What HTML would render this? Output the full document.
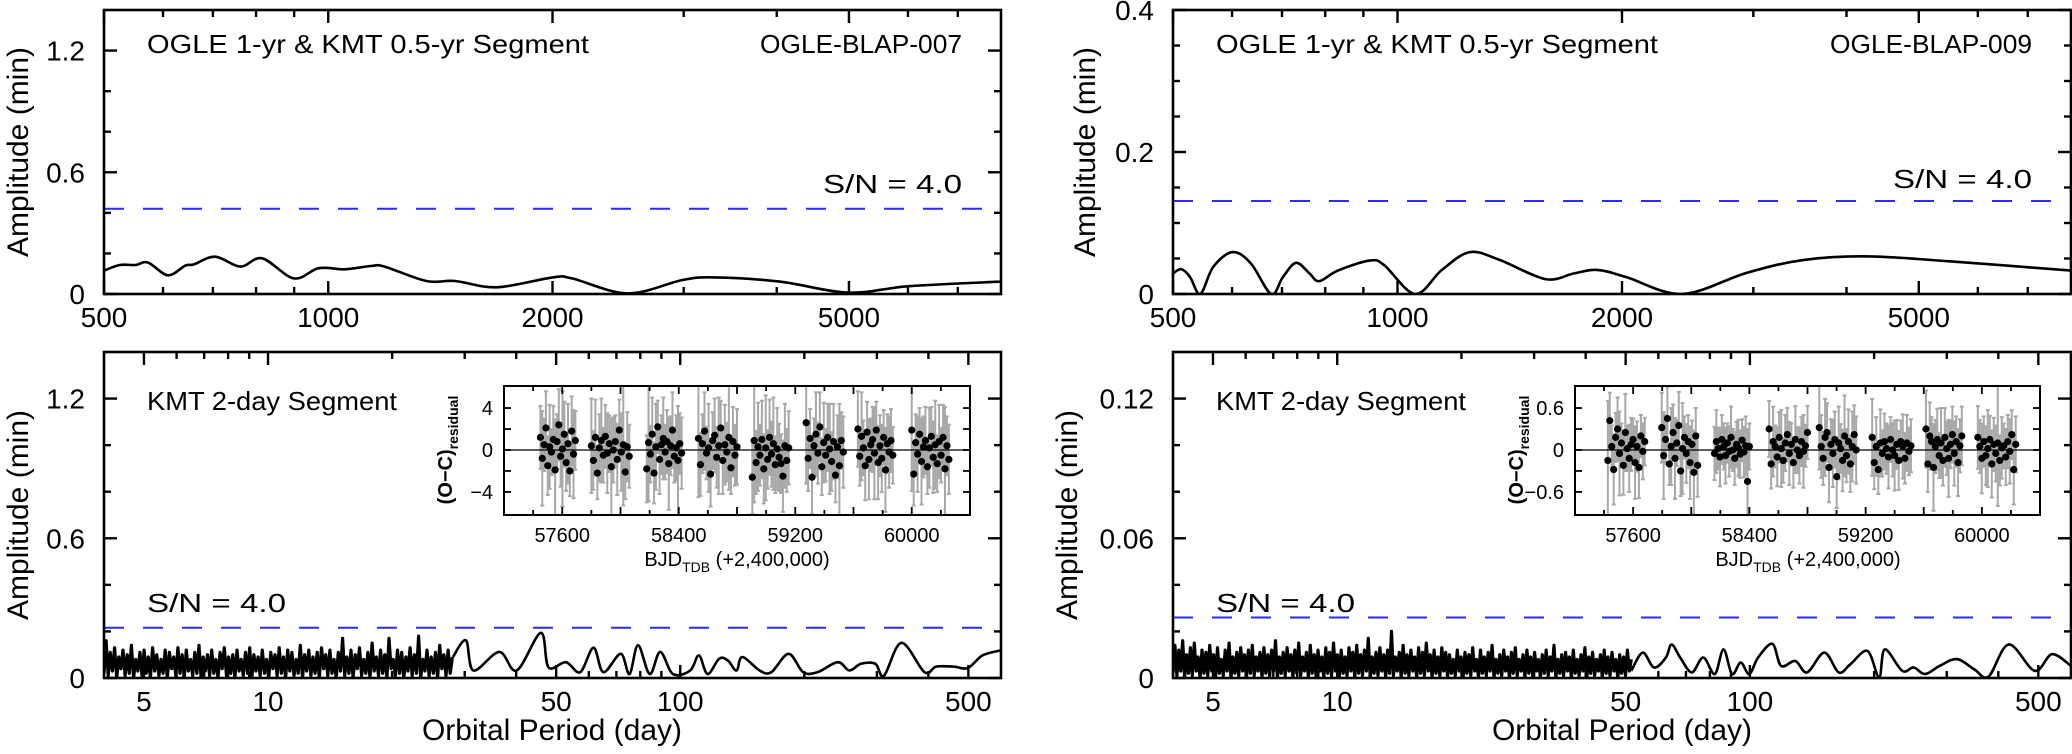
<!DOCTYPE html>
<html><head><meta charset="utf-8"><style>body{margin:0;background:#fff}svg{display:block}</style></head>
<body>
<svg id="fig" width="2072" height="754" viewBox="0 0 2072 754" xmlns="http://www.w3.org/2000/svg">
<rect x="0" y="0" width="2072" height="754" fill="#fff"/>
<g font-family="'Liberation Sans Narrow','Liberation Sans',sans-serif" font-size="26" fill="#000">
<text x="147" y="53" textLength="442" lengthAdjust="spacingAndGlyphs">OGLE 1-yr &amp; KMT 0.5-yr Segment</text>
<text x="760" y="53" textLength="202" lengthAdjust="spacingAndGlyphs">OGLE-BLAP-007</text>
<text x="823" y="193" textLength="139" lengthAdjust="spacingAndGlyphs">S/N = 4.0</text>
<text x="1216" y="53" textLength="442" lengthAdjust="spacingAndGlyphs">OGLE 1-yr &amp; KMT 0.5-yr Segment</text>
<text x="1830" y="53" textLength="202" lengthAdjust="spacingAndGlyphs">OGLE-BLAP-009</text>
<text x="1893" y="188" textLength="139" lengthAdjust="spacingAndGlyphs">S/N = 4.0</text>
<text x="147" y="410" textLength="250" lengthAdjust="spacingAndGlyphs">KMT 2-day Segment</text>
<text x="147" y="612" textLength="139" lengthAdjust="spacingAndGlyphs">S/N = 4.0</text>
<text x="1216" y="410" textLength="250" lengthAdjust="spacingAndGlyphs">KMT 2-day Segment</text>
<text x="1216" y="612" textLength="139" lengthAdjust="spacingAndGlyphs">S/N = 4.0</text>
</g>
<g font-family="'Liberation Sans',sans-serif" font-size="30" fill="#000" text-anchor="middle">
<text transform="translate(28,152) rotate(-90)">Amplitude (min)</text>
<text transform="translate(28,515) rotate(-90)">Amplitude (min)</text>
<text transform="translate(1095,152) rotate(-90)">Amplitude (min)</text>
<text transform="translate(1077,515) rotate(-90)">Amplitude (min)</text>
<text x="552" y="740">Orbital Period (day)</text>
<text x="1622" y="740">Orbital Period (day)</text>
</g>
<g font-family="'Liberation Sans',sans-serif" font-size="20" fill="#000">
<text transform="translate(452,450) rotate(-90)" text-anchor="middle" font-weight="bold">(O−C)<tspan font-size="14" dy="6">residual</tspan></text>
<text x="737" y="566" text-anchor="middle">BJD<tspan font-size="14" dy="6">TDB</tspan><tspan dy="-6"> (+2,400,000)</tspan></text>
<text transform="translate(1523,450) rotate(-90)" text-anchor="middle" font-weight="bold">(O−C)<tspan font-size="14" dy="6">residual</tspan></text>
<text x="1808" y="566" text-anchor="middle">BJD<tspan font-size="14" dy="6">TDB</tspan><tspan dy="-6"> (+2,400,000)</tspan></text>
</g>
</svg>
<script>
// ---------- DATA ----------
const tlPeriods=[500,525,551,573,609,643,660,705,762,815,899,971,1053,1141,1190,1354,1480,1683,2001,2124,2523,2989,3303,4037,4990,6045,8000];
const tlAmps=[0.115,0.143,0.143,0.155,0.092,0.140,0.146,0.184,0.135,0.176,0.077,0.127,0.122,0.138,0.135,0.064,0.064,0.033,0.082,0.077,0.003,0.069,0.082,0.061,0.007,0.039,0.061];
const tlSN=0.42;
const trPeriods=[500,513,527,544,566,601,636,677,702,731,762,785,832,917,959,1056,1147,1250,1370,1579,1725,1852,2025,2407,2943,3508,4283,5500,8000];
const trAmps=[0.029,0.035,0.024,0.0,0.038,0.059,0.043,0.0,0.024,0.044,0.029,0.018,0.033,0.047,0.041,0.0,0.034,0.059,0.048,0.021,0.029,0.034,0.024,0.0,0.030,0.048,0.053,0.046,0.033];
const trSN=0.131;
const blNoiseRange=[4,28];
const blNoise=[0.02,0.16,0.01,0.11,0.03,0.13,0.00,0.09,0.04,0.12,0.01,0.10,0.02,0.14,0.00,0.08,0.03,0.11,0.01,0.12,0.02,0.09,0.00,0.13,0.03,0.10,0.01,0.08,0.02,0.12,0.00,0.11,0.04,0.09,0.01,0.13,0.02,0.10,0.00,0.12,0.03,0.08,0.01,0.11,0.02,0.14,0.00,0.09,0.03,0.10,0.01,0.12,0.02,0.08,0.00,0.11,0.04,0.13,0.01,0.09,0.02,0.10,0.00,0.12,0.03,0.08,0.01,0.11,0.02,0.13,0.00,0.10,0.03,0.09,0.01,0.12,0.02,0.08,0.00,0.11,0.04,0.10,0.01,0.13,0.02,0.09,0.00,0.12,0.03,0.11,0.01,0.08,0.02,0.14,0.00,0.10,0.03,0.12,0.01,0.09,0.02,0.11,0.00,0.13,0.04,0.10,0.01,0.12,0.02,0.08,0.00,0.11,0.03,0.17,0.01,0.09,0.02,0.12,0.00,0.10,0.04,0.13,0.01,0.08,0.02,0.11,0.00,0.15,0.03,0.09,0.01,0.12,0.02,0.10,0.00,0.17,0.04,0.08,0.01,0.12,0.02,0.11,0.00,0.09,0.03,0.13,0.01,0.10,0.02,0.18,0.00,0.08,0.03,0.12,0.01,0.09,0.02,0.11,0.00,0.14,0.04,0.10,0.01,0.12,0.02,0.09];
const blPeriods=[28.1,30.2,31.5,36.4,40.1,45.9,47.9,52.8,57.2,61.6,65.1,71.7,75.3,79.0,84.3,89.4,96.0,105.7,111.0,116.5,124.3,130.5,136.9,141.4,155.8,166.3,183.2,198.6,215.3,241.1,257.2,274.4,297.4,312.2,344.0,391.4,417.7,460.2,498.7,541,600];
const blAmps=[0.090,0.162,0.032,0.112,0.032,0.194,0.046,0.068,0.025,0.130,0.025,0.104,0.017,0.141,0.017,0.112,0.017,0.032,0.097,0.017,0.083,0.075,0.032,0.090,0.032,0.025,0.104,0.025,0.025,0.068,0.032,0.061,0.061,0.010,0.151,0.025,0.049,0.049,0.043,0.097,0.119];
const blSN=0.216;
const brNoiseRange=[4,51.6];
const brNoiseMilli=[2,14,1,12,3,16,0,10,2,13,1,15,3,9,0,12,2,11,1,14,3,10,0,13,2,8,1,12,3,15,0,9,2,11,1,13,3,10,0,12,2,14,1,9,3,11,0,13,2,10,1,12,3,16,0,9,2,11,1,13,3,10,0,12,2,15,1,9,3,11,0,14,2,10,1,12,3,9,0,13,2,11,1,15,3,10,0,12,2,9,1,13,3,11,0,14,2,10,1,12,3,17,0,9,2,11,1,13,3,10,0,12,2,20,1,9,3,11,0,14,2,10,1,12,3,9,0,13,2,11,1,15,3,10,0,12,2,9,1,13,3,11,0,10,2,8,1,12,3,9,0,11,2,10,1,13,3,8,0,12,2,9,1,11,3,14,0,8,2,10,1,12,3,9,0,11,2,13,1,8,3,10,0,12,2,9,1,11,3,8,0,10,2,12,1,9,3,14,0,8,2,10,1,11,3,9,0,12,2,8,1,10,3,13,0,9,2,11,1,8,3,10,0,12,2,9,1,11,3,8,0,10,2,9,1,12,3,8];
const brPeriods=[51.6,55.0,58.6,62.6,64.6,67.8,72.3,77.1,82.2,86.3,90.5,95.0,99.7,104.7,113.4,119.0,128.9,137.6,151.5,164.2,175.1,192.8,205.6,212.3,233.9,249.4,265.9,288.2,317.4,349.5,378.7,423.9,489.9,539.5,600];
const brAmps=[0.0031,0.0109,0.0045,0.0088,0.0144,0.0088,0.0024,0.0088,0.0017,0.0123,0.0017,0.0066,0.0017,0.0088,0.0147,0.0052,0.0073,0.0024,0.0109,0.0024,0.0059,0.0116,0.0003,0.0123,0.0031,0.0045,0.0017,0.0052,0.0081,0.0038,0.0006,0.0144,0.0031,0.0102,0.0052];
const brSN=0.026;
// tick labels
const topXTicks=[500,1000,2000,5000];
const topXMinor=[600,700,800,900,3000,4000,6000,7000];
const botXTicks=[5,10,50,100,500];
const botXMinor=[6,7,8,9,20,30,40,60,70,80,90,200,300,400];
const lYTicks=[0,0.6,1.2]; const lYLabels=['0','0.6','1.2']; const lYMinor=[0.2,0.4,0.8,1.0];
const trYTicks=[0,0.2,0.4]; const trYLabels=['0','0.2','0.4']; const trYMinor=[0.05,0.1,0.15,0.25,0.3,0.35];
const brYTicks=[0,0.06,0.12]; const brYLabels=['0','0.06','0.12']; const brYMinor=[0.02,0.04,0.08,0.1];
// inset data
const insetXTicks=[57600,58400,59200,60000];
const liYTicks=[-4,0,4]; const liYLabels=['−4','0','4'];
const riYTicks=[-0.6,0,0.6]; const riYLabels=['−0.6','0','0.6'];
const lSeasonStart=[57450,57800,58180,58535,58905,59275,59630,60000];
const lSeasonEnd=[57690,58060,58420,58800,59155,59530,59870,60255];
const rSeasonStart=[57426,57797,58160,58536,58881,59245,59615,59972];
const rSeasonEnd=[57680,58044,58400,58800,59135,59512,59862,60233];
const lResid=[
[1.2,-0.8,0.5,2.1,-1.5,0.3,-0.2,1.0,-1.9,0.8,2.4,-0.6,0.1,1.5,-1.2,0.6,-2.0,1.8,-0.4,0.9],
[0.4,-1.0,1.2,-2.2,0.2,0.9,-0.5,1.3,-0.3,0.6,-1.6,0.0,0.8,-0.9,1.9,-0.2,0.5,-2.1,0.3,-0.6],
[-1.8,0.7,-0.4,1.5,-2.2,0.3,2.2,-0.9,0.5,1.1,-0.2,0.8,-1.3,0.4,1.9,-0.6,0.2,-1.0,0.6,-0.3],
[1.1,-1.4,0.6,1.8,-0.3,0.2,-2.3,0.9,1.4,-0.7,0.4,2.1,-1.0,0.5,-0.2,1.2,-1.7,0.8,-0.5,0.3],
[-2.6,0.9,-1.2,0.3,-0.5,1.0,-1.8,0.2,-0.9,1.2,-0.4,0.6,-1.4,0.1,-0.7,-1.3,-2.5,0.4,-1.0,0.2],
[2.6,-0.8,1.1,-2.6,0.4,1.5,-0.3,2.2,-1.6,0.7,-0.5,1.2,0.1,-1.1,0.8,-2.4,0.3,-1.5,0.9,-0.2],
[2.0,-0.6,1.3,0.2,-1.5,1.7,-0.9,0.5,1.0,-0.3,1.9,-1.2,0.4,-0.8,1.2,-1.9,0.6,-0.2,0.9,-0.5],
[1.9,-2.3,0.7,-0.4,1.5,-1.1,0.3,0.9,-1.6,0.2,1.3,-0.7,0.5,-1.3,0.8,-0.5,1.2,-1.8,0.4,-0.9]];
const lErr=[
[3.0,4.5,2.5,3.5,2.8,4.0,2.2,3.2,4.8,2.6,3.4,2.9,5.5,3.1,2.7,3.8,2.4,3.3,4.2,2.8],
[4.5,2.8,3.6,2.5,3.2,4.0,2.6,3.0,3.8,2.7,4.6,3.1,2.5,3.4,2.9,3.7,5.8,2.6,3.3,3.0],
[3.2,5.6,2.7,3.5,2.9,4.1,2.5,3.3,2.8,3.9,2.6,3.0,4.4,2.8,3.6,2.5,3.1,5.2,2.9,3.4],
[5.6,3.0,2.8,3.7,2.5,4.2,3.1,2.7,3.5,2.9,4.6,2.6,3.2,3.8,2.8,5.0,2.5,3.3,2.9,3.6],
[3.5,5.9,3.0,4.2,2.9,3.7,3.3,5.0,2.8,3.6,3.1,4.4,2.7,3.9,3.2,2.8,3.4,4.0,3.0,3.5],
[5.8,3.1,2.8,3.5,2.6,4.0,2.9,3.3,2.7,3.8,2.5,3.2,4.3,2.8,3.6,2.6,3.0,5.9,2.7,3.4],
[3.6,2.8,4.2,2.6,3.3,2.9,3.8,2.5,3.1,4.4,2.7,3.5,2.9,3.2,2.6,4.0,2.8,3.4,3.0,2.7],
[5.8,3.0,2.7,3.6,2.5,4.1,2.9,3.2,2.6,3.8,2.8,3.4,4.2,2.7,3.5,2.6,3.1,5.9,2.8,3.3]];
const rResid=[
[-0.15,0.42,0.05,-0.28,0.18,0.30,-0.05,0.10,-0.22,0.25,0.02,-0.12,0.08,0.15,-0.18,0.05,-0.25,0.20,-0.02,0.12],
[0.32,-0.08,0.15,0.45,-0.20,0.05,0.25,-0.12,0.10,0.35,-0.30,0.02,0.18,-0.05,0.12,-0.18,0.08,-0.32,0.20,-0.22],
[-0.05,0.12,0.02,-0.10,0.15,0.05,-0.08,0.10,-0.02,0.18,0.00,-0.12,0.08,0.03,-0.06,0.14,-0.03,0.06,-0.45,0.05],
[0.30,-0.20,0.12,0.05,-0.10,0.18,0.02,-0.15,0.10,0.22,-0.05,0.08,-0.18,0.15,0.00,-0.08,0.12,-0.02,0.06,0.25],
[0.32,0.05,-0.12,0.18,0.25,-0.25,0.08,-0.05,0.15,-0.38,0.10,0.02,-0.15,0.20,-0.08,0.12,-0.20,0.05,0.22,0.00],
[0.18,-0.18,0.05,-0.28,0.10,-0.05,0.12,0.02,-0.10,0.15,0.00,-0.08,0.08,-0.15,0.12,0.05,-0.12,0.10,-0.02,0.06],
[0.30,-0.20,0.20,0.12,-0.25,0.05,0.15,-0.08,0.10,-0.15,0.18,0.02,-0.12,0.08,0.22,-0.05,0.12,-0.18,0.06,0.20],
[0.18,0.05,-0.12,0.12,-0.08,0.02,0.15,-0.20,0.08,-0.05,0.10,-0.15,0.03,0.06,-0.10,0.12,-0.02,0.22,-0.28,0.08]];
const rErr=[
[0.85,0.40,0.30,0.50,0.35,0.45,0.60,0.28,0.42,0.55,0.32,0.48,0.38,0.30,0.52,0.36,0.44,0.30,0.40,0.34],
[0.50,0.62,0.35,0.45,0.30,0.55,0.40,0.58,0.33,0.48,0.36,0.65,0.30,0.42,0.38,0.52,0.34,0.60,0.40,0.45],
[0.38,0.45,0.30,0.42,0.35,0.33,0.40,0.28,0.36,0.44,0.30,0.38,0.32,0.40,0.34,0.30,0.36,0.42,0.75,0.33],
[0.40,0.35,0.50,0.30,0.42,0.36,0.55,0.32,0.40,0.38,0.45,0.30,0.36,0.48,0.33,0.40,0.35,0.52,0.30,0.38],
[0.60,0.45,0.38,0.55,0.42,0.50,0.36,0.48,0.40,0.45,0.52,0.35,0.44,0.58,0.38,0.46,0.40,0.50,0.42,0.48],
[0.55,0.38,0.42,0.35,0.48,0.33,0.40,0.36,0.45,0.32,0.38,0.50,0.35,0.42,0.30,0.46,0.36,0.40,0.34,0.38],
[0.55,0.40,0.48,0.35,0.62,0.38,0.44,0.32,0.50,0.36,0.42,0.38,0.55,0.34,0.40,0.46,0.36,0.48,0.38,0.42],
[0.45,0.38,0.50,0.36,0.42,0.55,0.34,0.48,0.38,0.40,0.90,0.36,0.44,0.32,0.40,0.38,0.46,0.35,0.50,0.40]];

// ---------- DRAWING ----------
const svg=document.getElementById('fig');
const NS='http://www.w3.org/2000/svg';
function mk(tag,attrs,parent){const e=document.createElementNS(NS,tag);for(const k in attrs)e.setAttribute(k,attrs[k]);(parent||svg).appendChild(e);return e;}
function axX(p,c){return c.x0+(Math.log10(p)-Math.log10(c.pmin))/(Math.log10(c.pmax)-Math.log10(c.pmin))*(c.x1-c.x0);}
function axY(a,c){return c.yb-(a/c.amax)*(c.yb-c.yt);}
function catmull(pts){let d='M'+pts[0][0].toFixed(1)+' '+pts[0][1].toFixed(1);
 for(let i=0;i<pts.length-1;i++){const p0=pts[i-1]||pts[i],p1=pts[i],p2=pts[i+1],p3=pts[i+2]||p2;
  const c1=[p1[0]+(p2[0]-p0[0])/6,p1[1]+(p2[1]-p0[1])/6],c2=[p2[0]-(p3[0]-p1[0])/6,p2[1]-(p3[1]-p1[1])/6];
  d+=` C${c1[0].toFixed(1)} ${c1[1].toFixed(1)} ${c2[0].toFixed(1)} ${c2[1].toFixed(1)} ${p2[0].toFixed(1)} ${p2[1].toFixed(1)}`;}
 return d;}

let clipId=0;
function drawPanel(c,prefix){
 const g=mk('g',{});
 
 
 const cid='clip'+(clipId++);
 const cp=mk('clipPath',{id:cid},g);
 mk('rect',{x:c.x0,y:c.yt,width:c.x1-c.x0,height:c.yb-c.yt},cp);
 const sn=mk('line',{x1:c.x0,x2:c.x1,y1:axY(c.sn,c),y2:axY(c.sn,c),stroke:'#2b2bf5','stroke-width':2,'stroke-dasharray':'20 19'},g);
 
 
 if(c.noise){
  const n=c.noise.length, l0=Math.log10(c.noiseRange[0]), l1=Math.log10(c.noiseRange[1]);
  const pts=c.noise.map((a,i)=>[axX(Math.pow(10,l0+(l1-l0)*i/(n-1)),c),axY(a*c.noiseScale,c)]);
  const nd='M'+pts.map(p=>p[0].toFixed(1)+' '+p[1].toFixed(1)).join(' L');
  const np=mk('path',{d:nd,fill:'none',stroke:'#000','stroke-width':3.2,'stroke-linejoin':'round','clip-path':'url(#'+cid+')'},g);
  
  
 }
 const d=catmull(c.periods.map((p,i)=>[axX(p,c),axY(c.amps[i],c)]));
 const curve=mk('path',{d:d,fill:'none',stroke:'#000','stroke-width':2.6,'stroke-linejoin':'round','clip-path':'url(#'+cid+')'},g);
 
 
 const fr=mk('rect',{x:c.x0,y:c.yt,width:c.x1-c.x0,height:c.yb-c.yt,fill:'none',stroke:'#000','stroke-width':2.6},g);
 
 
 const tk=mk('g',{stroke:'#000','stroke-width':2.4},g);
 
 
 c.yTicks.forEach((v,i)=>{const y=axY(v,c);
  mk('line',{x1:c.x0,x2:c.x0+13,y1:y,y2:y},tk);mk('line',{x1:c.x1,x2:c.x1-13,y1:y,y2:y},tk);
  const t=mk('text',{x:c.x0-19,y:y+10,'text-anchor':'end','font-family':"'Liberation Sans',sans-serif",'font-size':28},g);
  t.textContent=c.yLabels[i];
  
  });
 c.yMinor.forEach(v=>{const y=axY(v,c);mk('line',{x1:c.x0,x2:c.x0+7,y1:y,y2:y},tk);mk('line',{x1:c.x1,x2:c.x1-7,y1:y,y2:y},tk);});
 c.xTicks.forEach(v=>{const x=axX(v,c);
  mk('line',{x1:x,x2:x,y1:c.yb,y2:c.yb-13},tk);mk('line',{x1:x,x2:x,y1:c.yt,y2:c.yt+13},tk);
  const t=mk('text',{x:x,y:c.yb+33,'text-anchor':'middle','font-family':"'Liberation Sans',sans-serif",'font-size':28},g);
  t.textContent=String(v);
  
  });
 c.xMinor.forEach(v=>{const x=axX(v,c);mk('line',{x1:x,x2:x,y1:c.yb,y2:c.yb-7},tk);mk('line',{x1:x,x2:x,y1:c.yt,y2:c.yt+7},tk);});
}

drawPanel({x0:104,x1:1001,yt:10,yb:294,pmin:500,pmax:8000,amax:1.4,sn:tlSN,periods:tlPeriods,amps:tlAmps,yTicks:lYTicks,yLabels:lYLabels,yMinor:lYMinor,xTicks:topXTicks,xMinor:topXMinor},'top-left');
drawPanel({x0:1173,x1:2071,yt:10,yb:294,pmin:500,pmax:8000,amax:0.4,sn:trSN,periods:trPeriods,amps:trAmps,yTicks:trYTicks,yLabels:trYLabels,yMinor:trYMinor,xTicks:topXTicks,xMinor:topXMinor},'top-right');
drawPanel({x0:104,x1:1001,yt:352,yb:678,pmin:4,pmax:600,amax:1.4,sn:blSN,noise:blNoise,noiseScale:1,noiseRange:blNoiseRange,periods:blPeriods,amps:blAmps,yTicks:lYTicks,yLabels:lYLabels,yMinor:lYMinor,xTicks:botXTicks,xMinor:botXMinor},'bottom-left');
drawPanel({x0:1173,x1:2071,yt:352,yb:678,pmin:4,pmax:600,amax:0.14,sn:brSN,noise:brNoiseMilli,noiseScale:0.001,noiseRange:brNoiseRange,periods:brPeriods,amps:brAmps,yTicks:brYTicks,yLabels:brYLabels,yMinor:brYMinor,xTicks:botXTicks,xMinor:botXMinor},'bottom-right');

function drawInset(c,prefix,starts,ends,resid,err){
 const g=mk('g',{});
 
 
 mk('rect',{x:c.x0,y:c.yt,width:c.x1-c.x0,height:c.yb-c.yt,fill:'#fff'},g);
 const X=t=>c.x0+(t-c.tmin)/(c.tmax-c.tmin)*(c.x1-c.x0);
 const Y=v=>c.yb-(v-c.vmin)/(c.vmax-c.vmin)*(c.yb-c.yt);
 const cid='clip'+(clipId++);
 const cp=mk('clipPath',{id:cid},g);
 mk('rect',{x:c.x0,y:c.yt,width:c.x1-c.x0,height:c.yb-c.yt},cp);
 const eg=mk('g',{stroke:'#a8a8a8','stroke-width':2,'clip-path':'url(#'+cid+')'},g);
 
 
 const zl=mk('line',{x1:c.x0,x2:c.x1,y1:Y(0),y2:Y(0),stroke:'#000','stroke-width':1.2},g);
 
 
 const pg=mk('g',{fill:'#000','clip-path':'url(#'+cid+')'},g);
 
 
 resid.forEach((arr,s)=>{const n=arr.length;
  arr.forEach((v,i)=>{const t=starts[s]+(ends[s]-starts[s])*i/(n-1);const x=X(t);
   mk('line',{x1:x,x2:x,y1:Y(v+err[s][i]),y2:Y(v-err[s][i])},eg);
   mk('line',{x1:x-2,x2:x+2,y1:Y(v+err[s][i]),y2:Y(v+err[s][i])},eg);
   mk('line',{x1:x-2,x2:x+2,y1:Y(v-err[s][i]),y2:Y(v-err[s][i])},eg);
   const dot=mk('circle',{cx:x,cy:Y(v),r:3.6},pg);
   
   });});
 const fr=mk('rect',{x:c.x0,y:c.yt,width:c.x1-c.x0,height:c.yb-c.yt,fill:'none',stroke:'#000','stroke-width':2},g);
 
 
 const tk=mk('g',{stroke:'#000','stroke-width':1.8},g);
 for(let t=c.tmin;t<=c.tmax;t+=200){const x=X(t);const L=(t%400===0)?8:5;
  mk('line',{x1:x,x2:x,y1:c.yb,y2:c.yb-L},tk);mk('line',{x1:x,x2:x,y1:c.yt,y2:c.yt+L},tk);}
 c.yAll.forEach(v=>{const y=Y(v);mk('line',{x1:c.x0,x2:c.x0+7,y1:y,y2:y},tk);mk('line',{x1:c.x1,x2:c.x1-7,y1:y,y2:y},tk);});
 insetXTicks.forEach(v=>{const t=mk('text',{x:X(v),y:c.yb+27,'text-anchor':'middle','font-family':"'Liberation Sans',sans-serif",'font-size':20},g);
  t.textContent=String(v);
  
  });
 c.yTicks.forEach((v,i)=>{const t=mk('text',{x:c.x0-11,y:Y(v)+7,'text-anchor':'end','font-family':"'Liberation Sans',sans-serif",'font-size':20},g);
  t.textContent=c.yLabels[i];
  
  });
}
drawInset({x0:504,x1:970,yt:386,yb:515,tmin:57200,tmax:60400,vmin:-6.2,vmax:6.1,yTicks:liYTicks,yLabels:liYLabels,yAll:[-4,-2,0,2,4]},'left',lSeasonStart,lSeasonEnd,lResid,lErr);
drawInset({x0:1575,x1:2040,yt:386,yb:515,tmin:57200,tmax:60400,vmin:-0.93,vmax:0.915,yTicks:riYTicks,yLabels:riYLabels,yAll:[-0.6,-0.3,0,0.3,0.6]},'right',rSeasonStart,rSeasonEnd,rResid,rErr);
</script>
</body></html>
